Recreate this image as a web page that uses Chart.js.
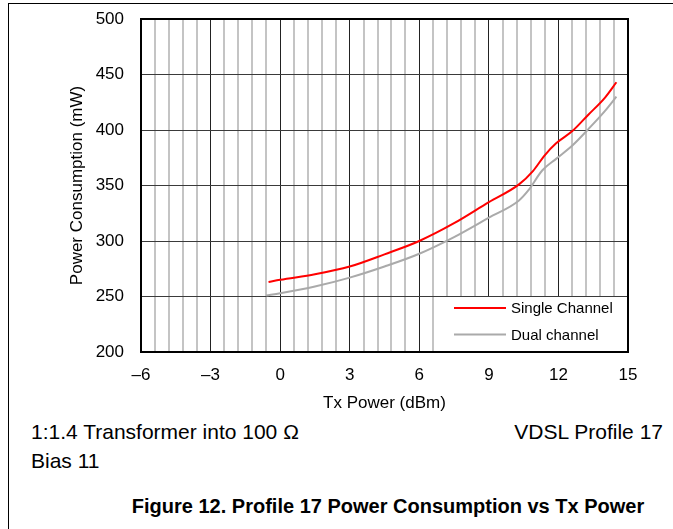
<!DOCTYPE html>
<html>
<head>
<meta charset="utf-8">
<script src="https://cdn.jsdelivr.net/npm/chart.js@4.4.0/dist/chart.umd.min.js"></script>
<style>
	body { margin: 0; background: #fff; font-family: 'Liberation Sans', Arial, sans-serif; color: #000; }
	#page { position: relative; width: 673px; height: 529px; overflow: hidden; }
	#chartBox { position: absolute; left: 0; top: 0; width: 673px; height: 420px; }
	.rule-top { position: absolute; left: 8px; top: 3px; width: 665px; height: 1px; background: #000; }
	.rule-left { position: absolute; left: 8px; top: 3px; width: 1px; height: 526px; background: #000; }
	.note { position: absolute; font-size: 21px; line-height: 21px; white-space: nowrap; }
	.caption { position: absolute; left: 0; width: 776px; text-align: center; font-size: 20px; line-height: 20px; font-weight: bold; white-space: nowrap; }
</style>
</head>
<body>
<div id="page">
	<div class="rule-top"></div>
	<div class="rule-left"></div>
	<div id="chartBox"><canvas id="chart" width="673" height="420"></canvas></div>
	<div class="note" style="left:31px; top:421px;">1:1.4 Transformer into 100 Ω</div>
	<div class="note" style="right:10px; top:421px;">VDSL Profile 17</div>
	<div class="note" style="left:31px; top:450px;">Bias 11</div>
	<div class="caption" style="top:496px;">Figure 12. Profile 17 Power Consumption vs Tx Power</div>
</div>
<script>
// values
const singleX = [-0.5, 0, 1.5, 3, 4.5, 6, 7.5, 9, 10.3, 10.9, 11.4, 11.9, 12.6, 13.3, 14, 14.5];
const singleY = [263, 265, 270, 277, 288, 300, 316, 335, 351, 363, 377, 388, 399, 414, 429, 443];
const dualX = [-0.6, 0, 1.5, 3, 4.5, 6, 7.5, 9, 10.3, 10.7, 11.3, 11.9, 12.6, 13.3, 14, 14.5];
const dualY = [251, 253, 259, 267, 277, 288.5, 303.5, 321, 336.5, 345.5, 363.5, 374, 386, 401, 417, 430];
const seriesNames = ['Single Channel', 'Dual channel'];
const xMin = -6, xMax = 15, xMinorStep = 0.6, xMajorStep = 3;
const yMin = 200, yMax = 500, yStep = 50;

const FONT = "'Liberation Sans', Arial, sans-serif";

function points(xs, ys) {
	return xs.map((x, i) => ({ x: x, y: ys[i] }));
}

function isMajor(v) {
	const q = v / xMajorStep;
	return Math.abs(q - Math.round(q)) < 1e-6;
}

// legend drawn inside the plot, bottom right, on a white patch
const insideLegend = {
	id: 'insideLegend',
	afterDatasetsDraw(chart) {
		const ctx = chart.ctx, a = chart.chartArea;
		ctx.save();
		ctx.fillStyle = '#fff';
		ctx.fillRect(440, 297, a.right - 441, a.bottom - 298);
		ctx.font = `15px ${FONT}`;
		ctx.textBaseline = 'middle';
		ctx.textAlign = 'left';
		chart.data.datasets.forEach((ds, i) => {
			const y = 308 + i * 26.5;
			ctx.strokeStyle = ds.borderColor;
			ctx.lineWidth = 2;
			ctx.beginPath();
			ctx.moveTo(454, y);
			ctx.lineTo(506, y);
			ctx.stroke();
			ctx.fillStyle = '#000';
			ctx.fillText(ds.label, 511, y + 1);
		});
		// plot frame
		ctx.strokeStyle = '#000';
		ctx.lineWidth = 2;
		ctx.strokeRect(a.left, a.top, a.right - a.left, a.bottom - a.top);
		ctx.restore();
	}
};

window.onload = function() {
	const ctx = document.getElementById('chart').getContext('2d');
	new Chart(ctx, {
		type: 'line',
		data: {
			datasets: [{
				label: seriesNames[0],
				data: points(singleX, singleY),
				borderColor: '#ff0000',
				borderWidth: 2,
				pointRadius: 0,
				cubicInterpolationMode: 'monotone',
			}, {
				label: seriesNames[1],
				data: points(dualX, dualY),
				borderColor: '#aaaaaa',
				borderWidth: 2,
				pointRadius: 0,
				cubicInterpolationMode: 'monotone',
			}],
		},
		options: {
			responsive: false,
			animation: false,
			layout: { padding: { left: 60, top: 19, right: 45, bottom: 0 } },
			plugins: {
				legend: { display: false },
				tooltip: { enabled: false },
			},
			scales: {
				x: {
					type: 'linear',
					min: xMin,
					max: xMax,
					afterFit(scale) { scale.height = 68; },
					border: { display: false },
					grid: {
						drawTicks: false,
						color: c => isMajor(c.tick.value) ? '#222' : '#c4c4c4',
						lineWidth: c => isMajor(c.tick.value) ? 1 : 2,
					},
					ticks: {
						stepSize: xMinorStep,
						autoSkip: false,
						maxRotation: 0,
						padding: 13,
						color: '#000',
						font: { family: FONT, size: 17 },
						callback: v => isMajor(v) ? (Math.round(v) < 0 ? '\u2013' + Math.abs(Math.round(v)) : String(Math.round(v))) : '',
					},
					title: {
						display: true,
						text: 'Tx Power (dBm)',
						color: '#000',
						font: { family: FONT, size: 17 },
						padding: { top: 0, bottom: 6 },
					},
				},
				y: {
					min: yMin,
					max: yMax,
					afterFit(scale) { scale.width = 81; },
					border: { display: false },
					grid: {
						drawTicks: true,
						tickLength: 17,
						tickColor: 'rgba(0,0,0,0)',
						color: '#3a3a3a',
						lineWidth: 1,
					},
					ticks: {
						stepSize: yStep,
						padding: 0,
						color: '#000',
						font: { family: FONT, size: 17 },
					},
					title: {
						display: true,
						text: 'Power Consumption (mW)',
						color: '#000',
						font: { family: FONT, size: 17 },
						padding: { top: 7, bottom: 0 },
					},
				},
			},
		},
		plugins: [insideLegend],
	});
};
</script>
</body>
</html>
